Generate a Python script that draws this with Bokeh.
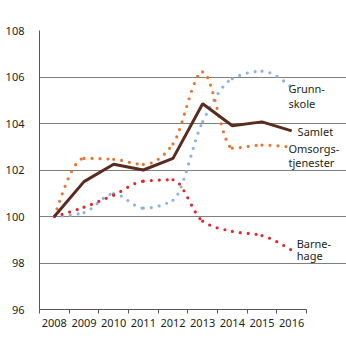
from bokeh.plotting import figure
from bokeh.models import FixedTicker, Label, ColumnDataSource
from bokeh.core.properties import value
from bokeh.embed import file_html
from bokeh.resources import INLINE

years = [2008, 2009, 2010, 2011, 2012, 2013, 2014, 2015, 2016]
samlet = [100.0, 101.5, 102.25, 102.0, 102.5, 104.85, 103.9, 104.07, 103.68]
grunnskole = [100.0, 100.17, 100.98, 100.36, 100.7, 104.08, 105.93, 106.25, 105.55]
omsorg = [100.0, 102.5, 102.46, 102.24, 103.12, 106.22, 102.94, 103.07, 102.98]
barnehage = [100.0, 100.4, 100.92, 101.52, 101.58, 99.8, 99.36, 99.18, 98.55]
y_ticks = [96, 98, 100, 102, 104, 106, 108]

FONT = "Noto Sans"
TXT = "#231f20"
X0, X1 = 2007.5, 2016.5

p = figure(width=346, height=341, output_backend="svg", toolbar_location=None,
           x_range=(X0, X0 + 307 / 29.667), y_range=(96, 108),
           min_border_left=39, min_border_right=0, min_border_top=30, min_border_bottom=32)
p.outline_line_color = None
p.background_fill_color = "white"

# axes
p.xaxis.ticker = FixedTicker(ticks=years, minor_ticks=[y - 0.5 for y in years] + [years[-1] + 0.5])
p.xaxis.bounds = (X0, X1)
p.xaxis.major_tick_line_color = None
p.xaxis.minor_tick_in = 0
p.xaxis.minor_tick_out = 4
p.xaxis.minor_tick_line_color = "#555555"
p.xaxis.axis_line_color = "#555555"
p.xaxis.major_label_standoff = 3
p.xaxis.major_label_text_font = FONT
p.xaxis.major_label_text_font_size = "11px"
p.xaxis.major_label_text_color = TXT

p.yaxis.ticker = FixedTicker(ticks=y_ticks)
p.yaxis.major_tick_line_color = None
p.yaxis.minor_tick_line_color = None
p.yaxis.axis_line_color = "#555555"
p.yaxis.major_label_standoff = 9
p.yaxis.major_label_text_font = FONT
p.yaxis.major_label_text_font_size = "11px"
p.yaxis.major_label_text_color = TXT

p.xgrid.grid_line_color = None
p.ygrid.grid_line_color = "#7f7f7f"
p.ygrid.grid_line_width = 1
p.ygrid.bounds = (X0, X1)
p.ygrid.ticker = FixedTicker(ticks=[98, 100, 102, 104, 106, 108])


def _sign(v):
    return (v > 0) - (v < 0)


def monotone_segments(xs, ys):
    """Bezier control points of a monotone cubic curve through the data points."""
    n = len(xs)
    t = [0.0] * n
    for i in range(1, n - 1):
        h0 = xs[i] - xs[i - 1]
        h1 = xs[i + 1] - xs[i]
        s0 = (ys[i] - ys[i - 1]) / h0
        s1 = (ys[i + 1] - ys[i]) / h1
        pp = (s0 * h1 + s1 * h0) / (h0 + h1)
        t[i] = (_sign(s0) + _sign(s1)) * min(abs(s0), abs(s1), 0.5 * abs(pp))
    t[0] = (3 * (ys[1] - ys[0]) / (xs[1] - xs[0]) - t[1]) / 2
    t[-1] = (3 * (ys[-1] - ys[-2]) / (xs[-1] - xs[-2]) - t[-2]) / 2
    d = dict(x0=[], y0=[], x1=[], y1=[], cx0=[], cy0=[], cx1=[], cy1=[])
    for i in range(n - 1):
        dx = (xs[i + 1] - xs[i]) / 3
        d["x0"].append(xs[i]); d["y0"].append(ys[i])
        d["x1"].append(xs[i + 1]); d["y1"].append(ys[i + 1])
        d["cx0"].append(xs[i] + dx); d["cy0"].append(ys[i] + dx * t[i])
        d["cx1"].append(xs[i + 1] - dx); d["cy1"].append(ys[i + 1] - dx * t[i + 1])
    return ColumnDataSource(d)


for vals, col in [(grunnskole, "#8db3e2"), (omsorg, "#e8742d"), (barnehage, "#e2262b")]:
    p.bezier(x0="x0", y0="y0", x1="x1", y1="y1", cx0="cx0", cy0="cy0", cx1="cx1", cy1="cy1",
             source=monotone_segments(years, vals), line_color=col, line_width=3.2,
             line_dash=value([0, 8]), line_cap=value("round"))

p.line(years, samlet, line_color="#5a2c20", line_width=3)

labels = [("Grunn-", 2015.89, 105.5), ("skole", 2015.89, 104.87),
          ("Samlet", 2016.2, 103.66),
          ("Omsorgs-", 2015.89, 102.92), ("tjenester", 2015.89, 102.34),
          ("Barne-", 2016.17, 98.83), ("hage", 2016.17, 98.31)]
for t_, x, y in labels:
    p.add_layout(Label(x=x, y=y, text=t_, text_font=FONT, text_font_size="11px",
                       text_color=TXT, text_baseline="middle", text_align="left"))

open("out.html", "w").write(file_html(p, INLINE))
